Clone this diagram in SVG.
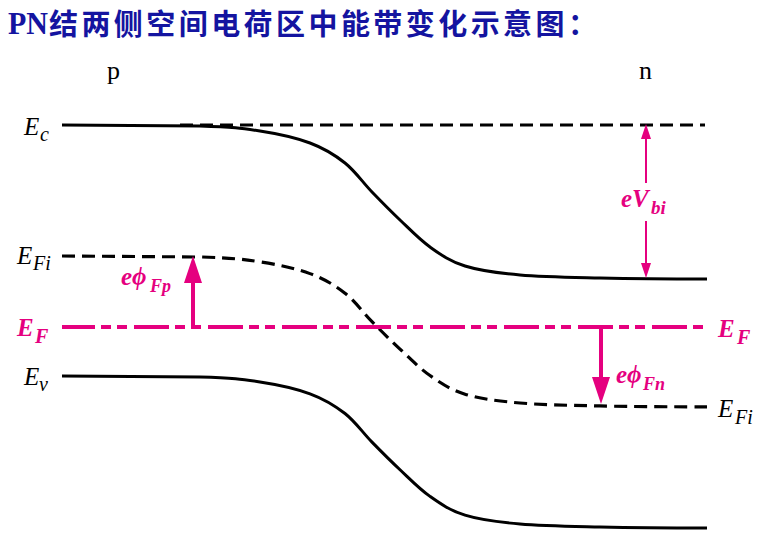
<svg xmlns="http://www.w3.org/2000/svg" width="759" height="534" viewBox="0 0 759 534">
<style>
.band{fill:none;stroke:#000;stroke-width:3}
.dash{fill:none;stroke:#000;stroke-width:3.2;stroke-dasharray:13 7}
.ef{fill:none;stroke:#E5007F;stroke-width:4;stroke-dasharray:35 6 10 6 10 7;stroke-dashoffset:2}
.arT{fill:none;stroke:#E5007F;stroke-width:4}
.arN{fill:none;stroke:#E5007F;stroke-width:2}
.lbl{font-family:"Liberation Serif","Times New Roman",serif;font-style:italic;font-size:25px;fill:#000}
.mg{font-family:"Liberation Serif","Times New Roman",serif;font-style:italic;font-weight:bold;font-size:25px;fill:#E5007F}
.side{font-family:"Liberation Serif","Times New Roman",serif;font-size:26px;fill:#000}
.title{font-weight:bold;fill:#1414A0}
</style>
<defs>
<marker id="ahT" markerUnits="userSpaceOnUse" markerWidth="27" markerHeight="18" refX="0" refY="9" orient="auto"><path d="M0,0 L27,9 L0,18 z" fill="#E5007F"/></marker>
<marker id="ahN" markerUnits="userSpaceOnUse" markerWidth="15" markerHeight="10" refX="0" refY="5" orient="auto"><path d="M0,0 L15,5 L0,10 z" fill="#E5007F"/></marker>
<path id="bandShape" d="M62,125 L200,126 C233,127 241.7,128.2 260,131 C278.3,133.8 295.8,137.7 310,143 C324.2,148.3 334.7,154.8 345,163 C355.3,171.2 362.8,182.5 372,192 C381.2,201.5 390.3,210.8 400,220 C409.7,229.2 419.2,239.3 430,247 C440.8,254.7 450,261.3 465,266 C480,270.7 497.5,273 520,275 C542.5,277 568.8,277.3 600,278 C631.2,278.7 689.2,279 707,279"/>
</defs>
<rect width="759" height="534" fill="#fff"/>
<g id="title">
<text class="title" x="8" y="34" font-family="Liberation Serif,serif" font-size="32" textLength="40" lengthAdjust="spacingAndGlyphs">PN</text>
<text class="title" x="49" y="35" font-family="Noto Sans CJK SC,sans-serif" font-size="29" textLength="548" lengthAdjust="spacing">结两侧空间电荷区中能带变化示意图：</text>
</g>
<g id="side-labels">
<text class="side" x="107" y="79">p</text>
<text class="side" x="639" y="79">n</text>
</g>
<g id="Ec">
<use href="#bandShape" class="band"/>
<line class="dash" x1="180" y1="125" x2="705" y2="125"/>
<text class="lbl" x="24" y="135">E<tspan x="40" y="141" font-size="20">c</tspan></text>
</g>
<g id="EFi">
<use href="#bandShape" class="dash" transform="translate(0,256) scale(1,0.98) translate(0,-125)"/>
<text class="lbl" x="17" y="264">E<tspan x="33" y="270" font-size="20">Fi</tspan></text>
<text class="lbl" x="718" y="417">E<tspan x="735" y="424" font-size="20">Fi</tspan></text>
</g>
<g id="EF">
<line class="ef" x1="62" y1="327" x2="707" y2="327"/>
<text class="mg" x="17" y="336" font-size="26">E<tspan x="35" y="343" font-size="20">F</tspan></text>
<text class="mg" x="718" y="337" font-size="26">E<tspan x="737" y="344" font-size="20">F</tspan></text>
</g>
<g id="Ev">
<use href="#bandShape" class="band" transform="translate(0,376) scale(1,0.987) translate(0,-125)"/>
<text class="lbl" x="24" y="385">E<tspan x="39" y="391" font-size="20">v</tspan></text>
</g>
<g id="connectors">
<line class="arT" x1="193" y1="327" x2="193" y2="283" marker-end="url(#ahT)"/>
<line class="arT" x1="601" y1="327" x2="601" y2="377" marker-end="url(#ahT)"/>
<line class="arN" x1="646" y1="183" x2="646" y2="139" marker-end="url(#ahN)"/>
<line class="arN" x1="646" y1="221" x2="646" y2="263" marker-end="url(#ahN)"/>
</g>
<g id="arrow-labels">
<text class="mg" x="121" y="285" font-size="26">eϕ<tspan x="150" y="292" font-size="18">Fp</tspan></text>
<text class="mg" x="621" y="207" font-size="26">eV<tspan x="651" y="214" font-size="19">bi</tspan></text>
<text class="mg" x="616" y="383" font-size="26">eϕ<tspan x="643" y="390" font-size="18">Fn</tspan></text>
</g>
</svg>
